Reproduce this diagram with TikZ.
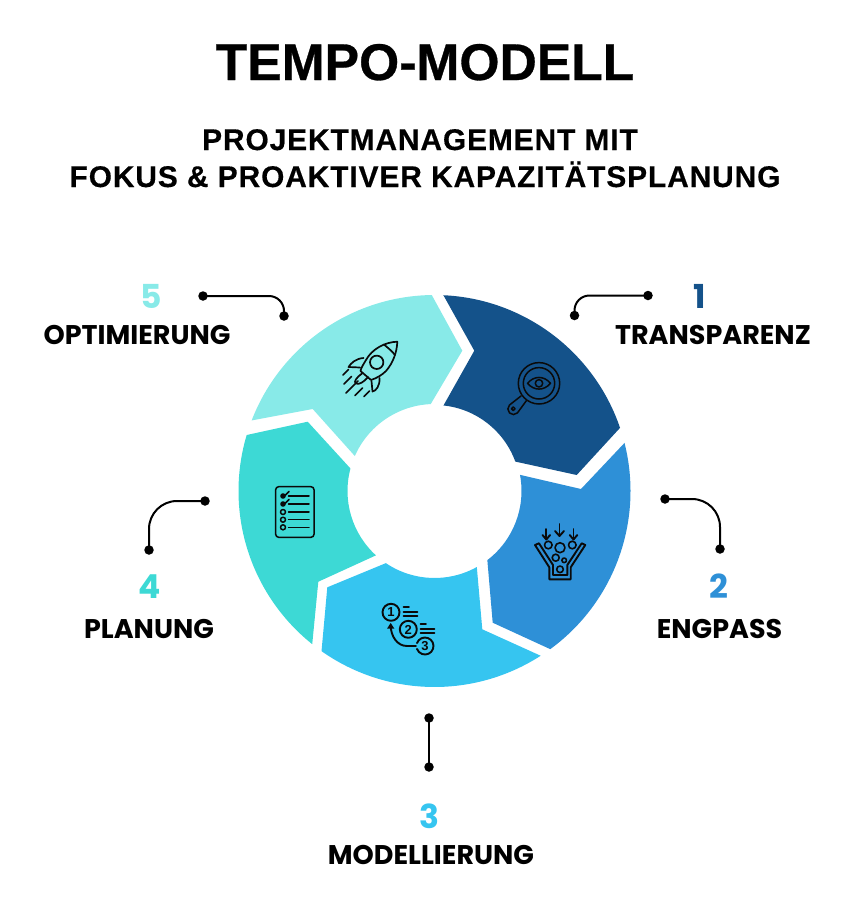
\documentclass[tikz,border=0pt]{standalone}
\usepackage{fontspec}
\usetikzlibrary{calc,arrows.meta}
\setmainfont{Liberation Sans}
\newfontfamily\labfont{Poppins}
\definecolor{cA}{HTML}{14528A}
\definecolor{cB}{HTML}{2E90D7}
\definecolor{cC}{HTML}{36C5F0}
\definecolor{cD}{HTML}{3DD9D5}
\definecolor{cE}{HTML}{88EAE8}
\definecolor{ink}{HTML}{0A0A0A}
\tikzset{
 titletext/.style={anchor=base,inner sep=0pt,font=\addfontfeature{FakeBold=0.6}\fontsize{51.6}{52}\selectfont\bfseries,text=black},
 subtext/.style={anchor=base,inner sep=0pt,font=\addfontfeature{LetterSpace=3,FakeBold=0.4}\fontsize{29.9}{30}\selectfont\bfseries,text=black},
 labeltext/.style={anchor=base,inner sep=0pt,font=\labfont\fontsize{27}{28}\selectfont\bfseries,text=black},
 numtext/.style={anchor=base,inner sep=0pt,font=\labfont\fontsize{33}{34}\selectfont\bfseries},
 dot/.style={circle,fill=black,inner sep=0pt,minimum size=9.5pt},
 conn/.style={draw=black,line width=2pt},
 ico/.style={draw=ink,line width=1.5pt,line cap=round,line join=round},
 icob/.style={draw=ink,line width=1.9pt,line cap=round,line join=round},
}
\newcommand{\ringpt}[2]{($(C)+(#1:#2pt)$)}
\begin{document}
\begin{tikzpicture}[x=1pt,y=-1pt]
\useasboundingbox (0,0) rectangle (850,900);
\coordinate (C) at (434.5,491);
% title
\node[titletext] (title) at (425,80) {TEMPO-MODELL};
\node[subtext] (subA) at (420,150) {PROJEKTMANAGEMENT MIT};
\node[subtext] (subB) at (425,187) {FOKUS \& PROAKTIVER KAPAZITÄTSPLANUNG};
% ring segments
\fill[cA] \ringpt{87.4}{196} arc[start angle=87.4,end angle=18.8,radius=196pt] -- (576.7,475) -- \ringpt{20}{86} arc[start angle=20,end angle=84,radius=86pt] -- (474.3,350.7) -- cycle;
\fill[cB] \ringpt{14.2}{196} arc[start angle=14.2,end angle=-53.8,radius=196pt] -- (492.7,622.7) -- \ringpt{-52.6}{87} arc[start angle=-52.6,end angle=10.7,radius=87pt] -- (581,489) -- cycle;
\fill[cC] \ringpt{-57.2}{196} arc[start angle=-57.2,end angle=-125.2,radius=196pt] -- (327.3,587.3) -- \ringpt{-124}{87} arc[start angle=-124,end angle=-60.9,radius=87pt] -- (482.3,629.3) -- cycle;
\fill[cD] \ringpt{163.4}{196} arc[start angle=163.4,end angle=231.4,radius=196pt] -- (318.3,581.7) -- \ringpt{227.7}{87} arc[start angle=227.7,end angle=165,radius=87pt] -- (307.7,421.7) -- cycle;
\fill[cE] \ringpt{90.8}{196} arc[start angle=90.8,end angle=158.9,radius=196pt] -- (312.7,409) -- \ringpt{156.3}{87} arc[start angle=156.3,end angle=92.5,radius=87pt] -- (462.3,350.7) -- cycle;
% labels
\node[numtext,text=cA] (n1) at (700,308) {1};
\node[labeltext] (l1) at (713,344) {TRANSPARENZ};
\node[numtext,text=cB] (n2) at (719,598) {2};
\node[labeltext] (l2) at (719.5,638) {ENGPASS};
\node[numtext,text=cC] (n3) at (429,828) {3};
\node[labeltext] (l3) at (431,864) {MODELLIERUNG};
\node[numtext,text=cD] (n4) at (150,598) {4};
\node[labeltext] (l4) at (149,638) {PLANUNG};
\node[numtext,text=cE] (n5) at (151,308) {5};
\node[labeltext] (l5) at (137,344) {OPTIMIERUNG};
% connectors
\node[dot] (a1) at (648,295.5) {}; \node[dot] (b1) at (574.5,315.5) {};
\draw[conn,rounded corners=15pt] (a1.center) -| (b1.center);
\node[dot] (a2) at (665,499) {}; \node[dot] (b2) at (720,549) {};
\draw[conn,rounded corners=28pt] (a2.center) -| (b2.center);
\node[dot] (a3) at (429,718) {}; \node[dot] (b3) at (429,767) {};
\draw[conn] (a3.center) -- (b3.center);
\node[dot] (a4) at (205,501) {}; \node[dot] (b4) at (149,550) {};
\draw[conn,rounded corners=28pt] (a4.center) -| (b4.center);
\node[dot] (a5) at (203,296) {}; \node[dot] (b5) at (284,316) {};
\draw[conn,rounded corners=15pt] (a5.center) -| (b5.center);
% icon 1: magnifier with eye
\begin{scope}[ico]
\draw (539,383.3) circle (20.7);
\draw (539,383.3) circle (15.7);
\draw (527.5,383.3) .. controls (534,375.5) and (544,375.5) .. (550.5,383.3) .. controls (544,391) and (534,391) .. cycle;
\draw (539,383.3) circle (3.7);
\draw (521,396) -- (509.5,405) arc[start angle=135,end angle=315,radius=5.6pt] -- (526.5,400.5);
\draw (513.3,408.7) circle (1.8);
\end{scope}
% icon 2: funnel
\begin{scope}[icob]
\draw (535,545) -- (549.3,567.3) -- (549.3,579.3) -- (570.7,579.3) -- (570.7,567.3) -- (585.3,545) -- (581.7,543.3) -- (567.3,565) -- (567.3,575) -- (553,575) -- (553,565) -- (539,543.3) -- cycle;
\draw[line width=1.6pt] (548.3,545) circle (3.8);
\draw[line width=1.6pt] (560,547.7) circle (5);
\draw[line width=1.6pt] (572.3,545) circle (3.8);
\draw[line width=1.6pt] (555.7,557.7) circle (3.5);
\draw[line width=1.6pt] (564.2,560.3) circle (2.3);
\draw[line width=1.6pt] (560,569.3) circle (3.3);
\draw (559.5,524) -- (559.5,535.5);
\draw (555,531) -- (559.5,536) -- (564,531);
\draw (546.3,529) -- (546.3,539);
\draw (542.5,535) -- (546.3,539.5) -- (550.1,535);
\draw (573.5,529) -- (573.5,539);
\draw (569.7,535) -- (573.5,539.5) -- (577.3,535);
\end{scope}
% icon 3: numbered list
\begin{scope}[icob]
\draw (391,612.3) circle (8.5);
\draw (408.3,629.3) circle (8.5);
\draw (417,643.1) arc[start angle=160,end angle=-160,radius=8.5pt];
\draw (403.5,607.3) -- (409,607.3) (403.5,612) -- (417.5,612) (403.5,616) -- (417.5,616);
\draw (420.5,624.3) -- (426,624.3) (420.5,629) -- (434.5,629) (420.5,633) -- (434.5,633);
\draw (416,646) -- (407,646) .. controls (397,646) and (391,636) .. (390.7,626);
\fill[ink] (390.7,623) -- (394.3,628.5) -- (387.1,628.5) -- cycle;
\end{scope}
\node[inner sep=0pt,font=\fontsize{13}{13}\selectfont\bfseries,text=ink] (i1) at (391,612.5) {1};
\node[inner sep=0pt,font=\fontsize{13}{13}\selectfont\bfseries,text=ink] (i2) at (408.3,629.5) {2};
\node[inner sep=0pt,font=\fontsize{13}{13}\selectfont\bfseries,text=ink] (i3) at (425,646.2) {3};
% icon 4: checklist
\begin{scope}[ico]
\draw[rounded corners=3pt] (275.7,486.7) rectangle (314,537.3);
\fill[ink] (283,496) circle (2.8);
\fill[ink] (283,504) circle (2.8);
\draw (283,512) circle (2.5);
\draw (283,519.7) circle (2.5);
\draw (283,527.3) circle (2.5);
\draw (282,496) -- (283.5,497) -- (289,491.5);
\draw (282,504) -- (283.5,505) -- (289,499.5);
\draw (288.5,496) -- (309,496) (288.5,504) -- (309,504) (288.5,512) -- (309,512) (288.5,519.7) -- (309,519.7) (288.5,527.3) -- (309,527.3);
\end{scope}
% icon 5: rocket
\begin{scope}[ico,line width=1.7pt]
\draw (397.3,341.7) .. controls (385,342) and (372,349) .. (366,360) .. controls (363,365) and (361,368) .. (360.5,371) -- (371,380) .. controls (377,378) and (382,375) .. (386,371) .. controls (393,363) and (397,352) .. (397.3,341.7) -- cycle;
\draw (384,344.5) .. controls (388,348) and (392,351) .. (395,355);
\draw (376.7,362.3) circle (6.7);
\draw (363.5,358) .. controls (356,358.5) and (351,363) .. (348.5,367) -- (360,367.5);
\draw (379.5,378) .. controls (380,386) and (376,391) .. (372.5,391.5) -- (371.5,381);
\draw (362,373.5) .. controls (357,377) and (353,382) .. (356,383.5) .. controls (359,385) and (364,382) .. (368,377);
\draw (343,375) -- (348.5,369.5);
\draw (344,384) -- (351.5,376.5);
\draw (346,393) -- (358,381);
\draw (355,395.5) -- (362.5,388);
\draw (364,396.5) -- (369.5,391);
\end{scope}
\end{tikzpicture}
\end{document}
